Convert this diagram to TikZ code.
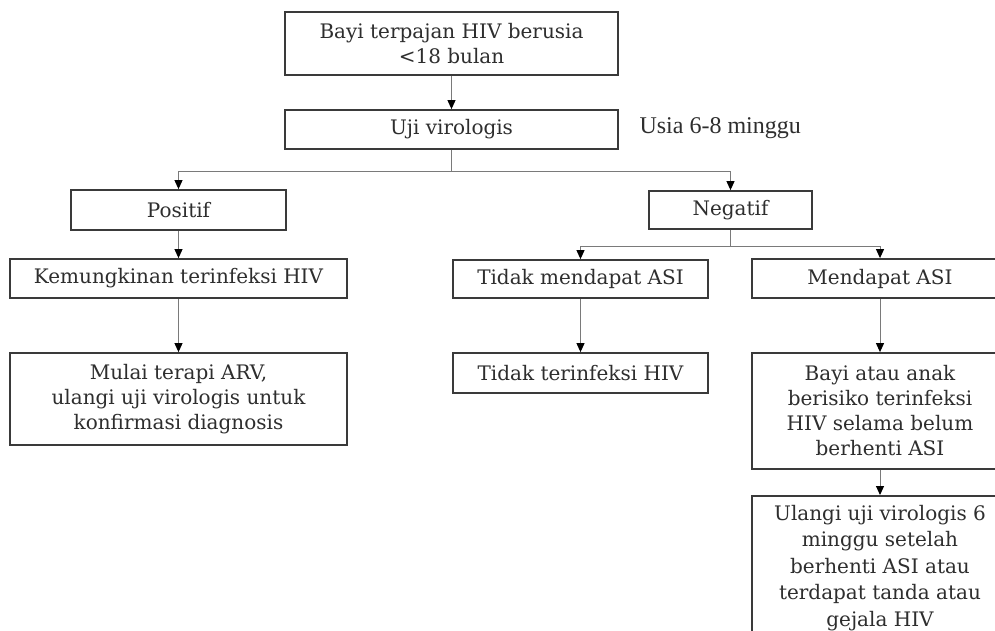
\documentclass[tikz,border=0pt]{standalone}
\usepackage{fontspec}
\setmainfont{DejaVu Serif}
\newfontfamily\notefont{Liberation Serif}
\usetikzlibrary{arrows.meta}
\definecolor{boxline}{HTML}{3A3A3A}
\definecolor{wire}{HTML}{7A7A7A}
\definecolor{ink}{HTML}{2E2E2E}
\begin{document}
\begin{tikzpicture}[x=1pt,y=-1pt,
  box/.style={draw=boxline, line width=1.8pt, fill=white, text=ink, align=center,
    inner sep=0pt, font=\fontsize{20}{25}\selectfont},
  conn/.style={draw=wire, line width=1pt,
    -{Triangle[width=8pt,length=9pt,color=black]}},
  plain/.style={draw=wire, line width=1pt}]
\useasboundingbox (0,0) rectangle (995,630);
\clip (0,0) rectangle (995,630);
\fill[white] (0,0) rectangle (995,630);

% top of the flow
\node[box, minimum width=333pt, minimum height=63pt] (bayi) at (451.5,43.5)
  {Bayi terpajan HIV berusia\\<18 bulan};
\node[box, minimum width=333pt, minimum height=39pt] (uji) at (451.5,129.5)
  {Uji virologis};
\node[anchor=west, text=ink, font=\notefont\fontsize{24}{28}\selectfont] (usia) at (636,128)
  {Usia 6-8 minggu};

% positive branch
\node[box, minimum width=215pt, minimum height=40pt] (pos) at (178.5,210) {Positif};
\node[box, minimum width=337pt, minimum height=39pt] (kem) at (178.5,278.5)
  {Kemungkinan terinfeksi HIV};
\node[box, minimum width=337pt, minimum height=92pt] (mulai) at (178.5,399)
  {Mulai terapi ARV,\\ulangi uji virologis untuk\\konfirmasi diagnosis};

% negative branch
\node[box, minimum width=163pt, minimum height=38pt] (neg) at (730.5,210) {Negatif};
\node[box, minimum width=255pt, minimum height=38pt] (tidakasi) at (580.5,279)
  {Tidak mendapat ASI};
\node[box, minimum width=255pt, minimum height=40pt] (tidakinf) at (580.5,373)
  {Tidak terinfeksi HIV};
\node[box, minimum width=256pt, minimum height=39pt] (asi) at (880,278.5)
  {Mendapat ASI};
\node[box, minimum width=256pt, minimum height=116pt] (risiko) at (880,411)
  {Bayi atau anak\\berisiko terinfeksi\\HIV selama belum\\berhenti ASI};
\node[box, minimum width=256pt, anchor=north, inner ysep=9pt,
  font=\fontsize{20}{26.5}\selectfont] (ulang) at (880,495)
  {Ulangi uji virologis 6\\minggu setelah\\berhenti ASI atau\\terdapat tanda atau\\gejala HIV};

% connectors
\draw[conn] (bayi) -- (uji);
\draw[conn] (uji.south) -- ++(0,21.5) -| (pos.north);
\draw[conn] (uji.south) -- ++(0,21.5) -| (neg.north);
\draw[conn] (pos) -- (kem);
\draw[conn] (kem) -- (mulai);
\draw[conn] (neg.south) -- ++(0,16.5) -| (tidakasi.north);
\draw[conn] (neg.south) -- ++(0,16.5) -| (asi.north);
\draw[conn] (tidakasi) -- (tidakinf);
\draw[conn] (asi) -- (risiko);
\draw[conn] (risiko) -- (ulang);
\end{tikzpicture}
\end{document}
